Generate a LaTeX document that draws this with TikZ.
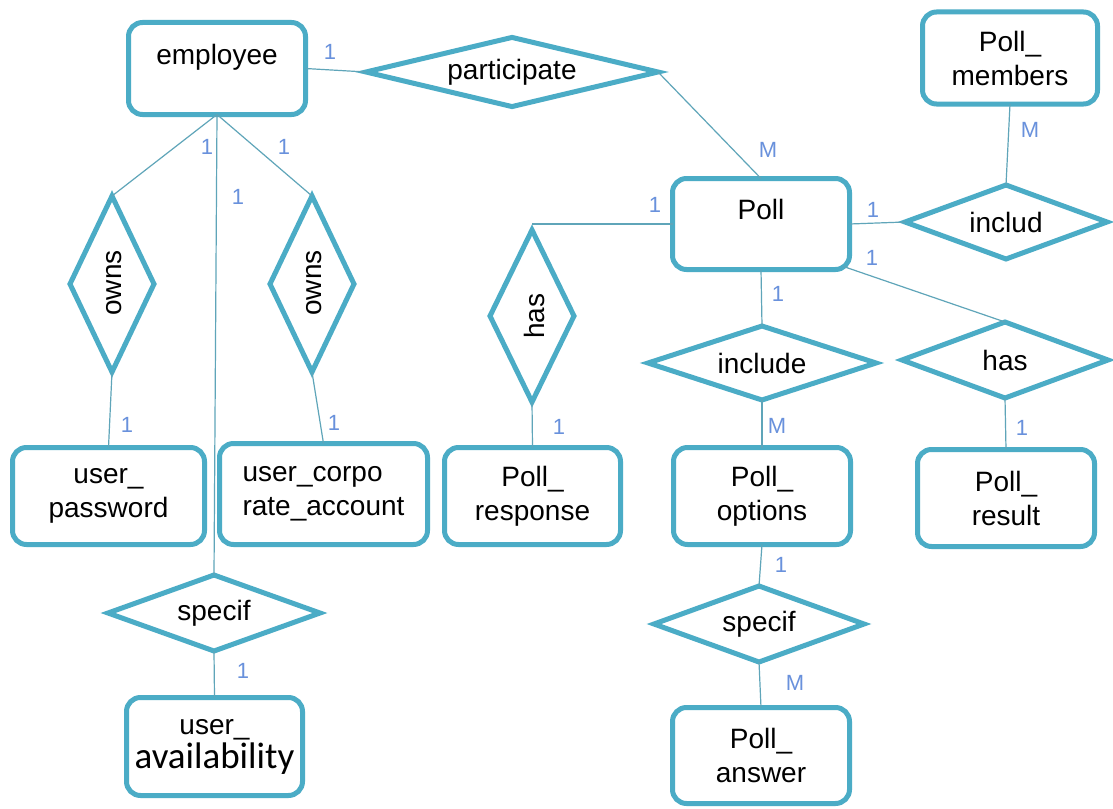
\documentclass[tikz,border=0pt]{standalone}
\usepackage{fontspec}
\setmainfont{Liberation Sans}
\newfontfamily\calfont{Carlito}
\usetikzlibrary{shapes.geometric}
\definecolor{erborder}{RGB}{75,172,198}
\definecolor{erline}{RGB}{95,165,185}
\definecolor{ercard}{RGB}{105,145,220}
\begin{document}
\begin{tikzpicture}[x=1pt,y=-1pt,
  entity/.style={draw=erborder, line width=5pt, rounded corners=14pt, rectangle, inner sep=0pt, outer sep=0pt, align=center, font=\fontsize{28}{34}\selectfont},
  rel/.style={draw=erborder, line width=5pt, diamond, shape aspect=3, inner sep=0pt, outer sep=0pt, font=\fontsize{28}{34}\selectfont},
  conn/.style={draw=erline, line width=1.2pt},
  card/.style={text=ercard, font=\fontsize{22}{26}\selectfont, inner sep=0pt},
  ttl/.style={anchor=base, inner sep=0pt, font=\fontsize{28}{34}\selectfont},
  vtxt/.style={rotate=90, inner sep=0pt, font=\fontsize{28}{34}\selectfont}
]
\fill[white] (0,0) rectangle (1113,808);
\useasboundingbox (0,0) rectangle (1113,808);

% entities
\node[entity, minimum width=177pt, minimum height=92pt] (employee) at (217,68.5) {};
\node[ttl] (employeeT) at (217,64) {employee};
\node[entity, minimum width=177pt, minimum height=91pt] (poll) at (761,224) {};
\node[ttl] (pollT) at (761,219) {Poll};
\node[entity, minimum width=175pt, minimum height=92pt] (members) at (1010,58) {Poll\_\\members};
\node[entity, minimum width=192pt, minimum height=97pt] (password) at (108.5,496) {user\_\\password};
\node[entity, minimum width=208pt, minimum height=101pt, align=left] (corp) at (323.5,494) {user\_corpo\\rate\_account};
\node[entity, minimum width=176pt, minimum height=97pt] (response) at (532.5,496) {Poll\_\\response};
\node[entity, minimum width=177pt, minimum height=97pt] (options) at (762,496) {Poll\_\\options};
\node[entity, minimum width=177pt, minimum height=97pt] (result) at (1006,498) {Poll\_\\result};
\node[entity, minimum width=176pt, minimum height=98pt] (avail) at (214.5,746.5) {user\_\\{\calfont\fontsize{37}{37}\selectfont availability}};
\node[entity, minimum width=177pt, minimum height=96pt] (answer) at (761,755.5) {Poll\_\\answer};

% relationships
\node[rel, minimum width=292pt, minimum height=68pt] (participate) at (512,72) {participate};
\node[rel, minimum width=84pt, minimum height=176pt] (ownsA) at (112,284) {};
\node[vtxt] (ownsAT) at (114,283) {owns};
\node[rel, minimum width=84pt, minimum height=176pt] (ownsB) at (312,284) {};
\node[vtxt] (ownsBT) at (314,283) {owns};
\node[rel, minimum width=84pt, minimum height=172pt] (hasA) at (532,316) {};
\node[vtxt] (hasAT) at (534,316) {has};
\node[rel, minimum width=228pt, minimum height=74pt] (include) at (762,363) {include};
\node[rel, minimum width=202pt, minimum height=74pt] (includ) at (1006,222) {includ};
\node[rel, minimum width=206pt, minimum height=76pt] (hasB) at (1005,360) {has};
\node[rel, minimum width=212pt, minimum height=76pt] (specifA) at (214,613) {specif};
\node[rel, minimum width=210pt, minimum height=76pt] (specifB) at (759,624) {specif};

% connectors
\draw[conn] (employee.east) -- (participate.west);
\draw[conn] (participate.east) -- (poll.north);
\draw[conn] (employee.south) -- (ownsA.north);
\draw[conn] (employee.south) -- (ownsB.north);
\draw[conn] (employee.south) -- (specifA.north);
\draw[conn] (ownsA.south) -- (password.north);
\draw[conn] (ownsB.south) -- (corp.north);
\draw[conn] (poll.west) -- (hasA.north |- poll.west);
\draw[conn] (hasA.south) -- (response.north);
\draw[conn] (poll.south) -- (include.north);
\draw[conn] (include.south) -- (options.north);
\draw[conn] (poll.east) -- (includ.west);
\draw[conn] (includ.north) -- (members.south);
\draw[conn] ([xshift=-6pt,yshift=3pt]poll.south east) -- (hasB.north);
\draw[conn] (hasB.south) -- (result.north);
\draw[conn] (options.south) -- (specifB.north);
\draw[conn] (specifB.south) -- (answer.north);
\draw[conn] (specifA.south) -- (avail.north);

% cardinalities
\node[card] (c1) at (330,52) {1};
\node[card] (c2) at (768,150) {M};
\node[card] (c3) at (207,147) {1};
\node[card] (c4) at (284,147) {1};
\node[card] (c5) at (238,197) {1};
\node[card] (c6) at (127,425) {1};
\node[card] (c7) at (334,423) {1};
\node[card] (c8) at (655,205) {1};
\node[card] (c9) at (559,427) {1};
\node[card] (c10) at (778,294) {1};
\node[card] (c11) at (777,426) {M};
\node[card] (c12) at (873,210) {1};
\node[card] (c13) at (872,258) {1};
\node[card] (c14) at (1030,130) {M};
\node[card] (c15) at (1022,428) {1};
\node[card] (c16) at (781,565) {1};
\node[card] (c17) at (795,683) {M};
\node[card] (c18) at (243,671) {1};
\end{tikzpicture}
\end{document}
